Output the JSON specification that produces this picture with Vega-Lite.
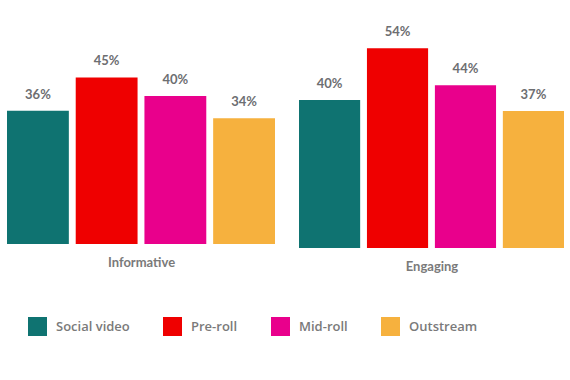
{
  "$schema": "https://vega.github.io/schema/vega-lite/v6.json",
  "background": "white",
  "padding": {"left": 7, "top": 20, "right": 0, "bottom": 0},
  "data": {"values": [
    {"group": "Informative", "series": "Social video", "value": 0.36},
    {"group": "Informative", "series": "Pre-roll", "value": 0.45},
    {"group": "Informative", "series": "Mid-roll", "value": 0.40},
    {"group": "Informative", "series": "Outstream", "value": 0.34},
    {"group": "Engaging", "series": "Social video", "value": 0.40},
    {"group": "Engaging", "series": "Pre-roll", "value": 0.54},
    {"group": "Engaging", "series": "Mid-roll", "value": 0.44},
    {"group": "Engaging", "series": "Outstream", "value": 0.37}
  ]},
  "config": {
    "view": {"stroke": null},
    "concat": {"spacing": 24},
    "font": "Lato",
    "legend": {
      "orient": "none",
      "legendX": 21,
      "legendY": 297,
      "direction": "horizontal",
      "title": null,
      "symbolType": "square",
      "symbolSize": 361,
      "symbolStrokeWidth": 0,
      "symbolOpacity": 1,
      "labelFont": "Open Sans",
      "labelFontSize": 13,
      "labelFontWeight": 600,
      "labelColor": "#7a7a7a",
      "labelOffset": 9,
      "columnPadding": 33
    }
  },
  "hconcat": [
    {
      "width": 268,
      "height": 224,
      "transform": [{"filter": "datum.group === 'Informative'"}],
      "encoding": {
        "x": {"field": "series", "type": "nominal", "sort": ["Social video", "Pre-roll", "Mid-roll", "Outstream"],
              "scale": {"paddingInner": 0.1, "paddingOuter": 0},
              "axis": {"labels": false, "ticks": false, "domain": false, "grid": false, "title": "Informative",
                       "titlePadding": 12, "titleFont": "Lato", "titleFontSize": 13, "titleFontWeight": "bold", "titleColor": "#7a7a7a"}},
        "y": {"field": "value", "type": "quantitative", "scale": {"domain": [0, 0.6054]}, "axis": null}
      },
      "layer": [
        {"mark": {"type": "bar"},
         "encoding": {"color": {"field": "series", "type": "nominal", "sort": ["Social video", "Pre-roll", "Mid-roll", "Outstream"],
                                "scale": {"domain": ["Social video", "Pre-roll", "Mid-roll", "Outstream"], "range": ["#0f7371", "#ef0000", "#e9008c", "#f6b13e"]}}}},
        {"mark": {"type": "text", "baseline": "bottom", "dy": -9, "font": "Lato", "fontSize": 13, "fontWeight": "bold", "color": "#6d6e71"},
         "encoding": {"text": {"field": "value", "type": "quantitative", "format": ".0%"}}}
      ]
    },
    {
      "width": 265,
      "height": 228,
      "transform": [{"filter": "datum.group === 'Engaging'"}],
      "encoding": {
        "x": {"field": "series", "type": "nominal", "sort": ["Social video", "Pre-roll", "Mid-roll", "Outstream"],
              "scale": {"paddingInner": 0.1, "paddingOuter": 0},
              "axis": {"labels": false, "ticks": false, "domain": false, "grid": false, "title": "Engaging",
                       "titlePadding": 12, "titleFont": "Lato", "titleFontSize": 13, "titleFontWeight": "bold", "titleColor": "#7a7a7a"}},
        "y": {"field": "value", "type": "quantitative", "scale": {"domain": [0, 0.6162]}, "axis": null}
      },
      "layer": [
        {"mark": {"type": "bar"},
         "encoding": {"color": {"field": "series", "type": "nominal", "sort": ["Social video", "Pre-roll", "Mid-roll", "Outstream"],
                                "scale": {"domain": ["Social video", "Pre-roll", "Mid-roll", "Outstream"], "range": ["#0f7371", "#ef0000", "#e9008c", "#f6b13e"]}}}},
        {"mark": {"type": "text", "baseline": "bottom", "dy": -9, "font": "Lato", "fontSize": 13, "fontWeight": "bold", "color": "#6d6e71"},
         "encoding": {"text": {"field": "value", "type": "quantitative", "format": ".0%"}}}
      ]
    }
  ]
}
